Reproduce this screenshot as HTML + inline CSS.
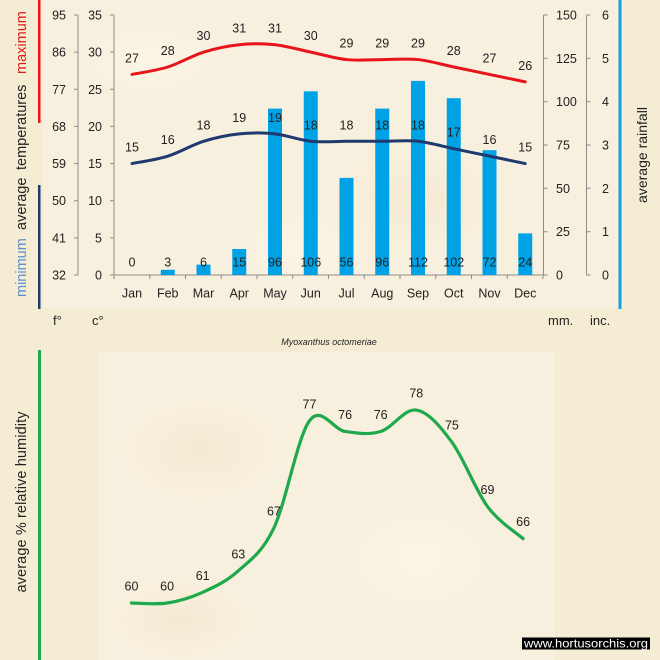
<!DOCTYPE html>
<html><head><meta charset="utf-8"><style>
html,body{margin:0;padding:0;background:#f5edd3;}
svg{display:block;}
text{font-family:"Liberation Sans",Arial,sans-serif;fill:#222;}
</style></head><body>
<svg width="660" height="660" viewBox="0 0 660 660" xmlns="http://www.w3.org/2000/svg">
<defs>
<radialGradient id="b1" cx="0.5" cy="0.5" r="0.5"><stop offset="0" stop-color="#fcf6e8" stop-opacity="0.8"/><stop offset="1" stop-color="#fcf6e8" stop-opacity="0"/></radialGradient>
<radialGradient id="b2" cx="0.5" cy="0.5" r="0.5"><stop offset="0" stop-color="#f3e8cf" stop-opacity="0.7"/><stop offset="1" stop-color="#f3e8cf" stop-opacity="0"/></radialGradient>
</defs>
<rect x="0" y="0" width="660" height="660" fill="#f5edd3"/>
<!-- textured panels -->
<rect x="43" y="0" width="575" height="308" fill="#f8f0de"/>
<rect x="98" y="352" width="457" height="308" fill="#f8f0de"/>
<ellipse cx="150" cy="60" rx="80" ry="40" fill="url(#b1)"/>
<ellipse cx="420" cy="200" rx="90" ry="50" fill="url(#b2)"/>
<ellipse cx="300" cy="250" rx="70" ry="40" fill="url(#b1)"/>
<ellipse cx="200" cy="450" rx="80" ry="50" fill="url(#b2)"/>
<ellipse cx="420" cy="560" rx="90" ry="60" fill="url(#b1)"/>
<ellipse cx="180" cy="620" rx="70" ry="40" fill="url(#b2)"/>

<!-- side colored bars -->
<rect x="38" y="0" width="2.5" height="123" fill="#e8191c"/>
<rect x="38" y="185" width="2.5" height="124" fill="#1f3a6e"/>
<rect x="618.5" y="0" width="3" height="309" fill="#14a0dc"/>
<rect x="38" y="350" width="3" height="310" fill="#1fa84c"/>

<!-- rotated titles -->
<g font-size="14.5">
<text transform="translate(26,74) rotate(-90)" style="fill:#e31a1c">maximum</text>
<text transform="translate(26,170) rotate(-90)">temperatures</text>
<text transform="translate(26,230) rotate(-90)">average</text>
<text transform="translate(26,297) rotate(-90)" style="fill:#5c8fd2">minimum</text>
</g>
<text transform="translate(647,155) rotate(-90)" font-size="14" text-anchor="middle" textLength="96" lengthAdjust="spacing">average rainfall</text>
<text transform="translate(26,502) rotate(-90)" font-size="14.5" text-anchor="middle" textLength="181" lengthAdjust="spacing">average %  relative humidity</text>

<!-- axes -->
<g stroke="#8c8c8c" stroke-width="1" fill="none">
<line x1="78" y1="15" x2="78" y2="275"/>
<line x1="114" y1="15" x2="114" y2="275"/>
<line x1="543.5" y1="15" x2="543.5" y2="275"/>
<line x1="586.5" y1="15" x2="586.5" y2="275"/>
<line x1="114" y1="275" x2="543.5" y2="275"/>
<path d="M74,15H78M74,52.1H78M74,89.3H78M74,126.4H78M74,163.6H78M74,200.7H78M74,237.9H78M74,275H78"/>
<path d="M110,15H114M110,52.1H114M110,89.3H114M110,126.4H114M110,163.6H114M110,200.7H114M110,237.9H114M110,275H114"/>
<path d="M543.5,15H547.5M543.5,58.3H547.5M543.5,101.7H547.5M543.5,145H547.5M543.5,188.3H547.5M543.5,231.7H547.5M543.5,275H547.5"/>
<path d="M586.5,15H590.5M586.5,58.3H590.5M586.5,101.7H590.5M586.5,145H590.5M586.5,188.3H590.5M586.5,231.7H590.5M586.5,275H590.5"/>
<path d="M114,275V279M149.75,275V279M185.5,275V279M221.25,275V279M257,275V279M292.75,275V279M328.5,275V279M364.25,275V279M400,275V279M435.75,275V279M471.5,275V279M507.25,275V279M543,275V279"/>
</g>

<!-- tick labels -->
<g font-size="12.5" text-anchor="end">
<text x="66" y="19.5">95</text><text x="66" y="56.6">86</text><text x="66" y="93.8">77</text><text x="66" y="130.9">68</text><text x="66" y="168.1">59</text><text x="66" y="205.2">50</text><text x="66" y="242.4">41</text><text x="66" y="279.5">32</text>
<text x="102" y="19.5">35</text><text x="102" y="56.6">30</text><text x="102" y="93.8">25</text><text x="102" y="130.9">20</text><text x="102" y="168.1">15</text><text x="102" y="205.2">10</text><text x="102" y="242.4">5</text><text x="102" y="279.5">0</text>
</g>
<g font-size="12.5" text-anchor="start">
<text x="556" y="19.5">150</text><text x="556" y="62.8">125</text><text x="556" y="106.2">100</text><text x="556" y="149.5">75</text><text x="556" y="192.8">50</text><text x="556" y="236.2">25</text><text x="556" y="279.5">0</text>
<text x="602" y="19.5">6</text><text x="602" y="62.8">5</text><text x="602" y="106.2">4</text><text x="602" y="149.5">3</text><text x="602" y="192.8">2</text><text x="602" y="236.2">1</text><text x="602" y="279.5">0</text>
</g>

<!-- bars -->
<g fill="#00a2e6">
<rect x="160.75" y="269.8" width="14" height="5.2"/>
<rect x="196.5" y="264.6" width="14" height="10.4"/>
<rect x="232.25" y="249" width="14" height="26"/>
<rect x="268" y="108.6" width="14" height="166.4"/>
<rect x="303.75" y="91.3" width="14" height="183.7"/>
<rect x="339.5" y="177.9" width="14" height="97.1"/>
<rect x="375.25" y="108.6" width="14" height="166.4"/>
<rect x="411" y="80.9" width="14" height="194.1"/>
<rect x="446.75" y="98.2" width="14" height="176.8"/>
<rect x="482.5" y="150.2" width="14" height="124.8"/>
<rect x="518.25" y="233.4" width="14" height="41.6"/>
</g>

<!-- month labels -->
<g font-size="12.5" text-anchor="middle">
<text x="132" y="297.5">Jan</text><text x="167.75" y="297.5">Feb</text><text x="203.5" y="297.5">Mar</text><text x="239.25" y="297.5">Apr</text><text x="275" y="297.5">May</text><text x="310.75" y="297.5">Jun</text><text x="346.5" y="297.5">Jul</text><text x="382.25" y="297.5">Aug</text><text x="418" y="297.5">Sep</text><text x="453.75" y="297.5">Oct</text><text x="489.5" y="297.5">Nov</text><text x="525.25" y="297.5">Dec</text>
</g>

<!-- lines -->
<path fill="none" stroke="#e8141b" stroke-width="3" stroke-linecap="round" d="M132,74.43 C137.96,73.19 155.83,70.72 167.75,67.0 C179.67,63.29 191.58,55.86 203.5,52.14 C215.42,48.43 227.33,45.95 239.25,44.71 C251.17,43.47 263.08,43.47 275,44.71 C286.92,45.95 298.83,49.66 310.75,52.14 C322.67,54.62 334.58,58.33 346.5,59.57 C358.42,60.81 370.33,59.57 382.25,59.57 C394.17,59.57 406.08,58.33 418,59.57 C429.92,60.81 441.83,64.52 453.75,67.0 C465.67,69.48 477.58,71.95 489.5,74.43 C501.42,76.91 519.29,80.62 525.25,81.86"/>
<path fill="none" stroke="#1f3a6e" stroke-width="3" stroke-linecap="round" d="M132,163.57 C137.96,162.33 155.83,159.85 167.75,156.14 C179.67,152.43 191.58,145.0 203.5,141.29 C215.42,137.58 227.33,135.1 239.25,133.86 C251.17,132.62 263.08,132.62 275,133.86 C286.92,135.1 298.83,140.05 310.75,141.29 C322.67,142.53 334.58,141.29 346.5,141.29 C358.42,141.29 370.33,141.29 382.25,141.29 C394.17,141.29 406.08,140.05 418,141.29 C429.92,142.53 441.83,146.24 453.75,148.71 C465.67,151.19 477.58,153.66 489.5,156.14 C501.42,158.62 519.29,162.33 525.25,163.57"/>

<!-- data labels -->
<g font-size="12.5" text-anchor="middle">
<text x="132" y="62.4">27</text><text x="167.75" y="55">28</text><text x="203.5" y="40.1">30</text><text x="239.25" y="32.7">31</text><text x="275" y="32.7">31</text><text x="310.75" y="40.1">30</text><text x="346.5" y="47.6">29</text><text x="382.25" y="47.6">29</text><text x="418" y="47.6">29</text><text x="453.75" y="55">28</text><text x="489.5" y="62.4">27</text><text x="525.25" y="69.9">26</text>
<text x="132" y="151.6">15</text><text x="167.75" y="144.1">16</text><text x="203.5" y="129.3">18</text><text x="239.25" y="121.9">19</text><text x="275" y="121.9">19</text><text x="310.75" y="129.3">18</text><text x="346.5" y="129.3">18</text><text x="382.25" y="129.3">18</text><text x="418" y="129.3">18</text><text x="453.75" y="136.7">17</text><text x="489.5" y="144.1">16</text><text x="525.25" y="151.6">15</text>
<text x="132" y="266.5">0</text><text x="167.75" y="266.5">3</text><text x="203.5" y="266.5">6</text><text x="239.25" y="266.5">15</text><text x="275" y="266.5">96</text><text x="310.75" y="266.5">106</text><text x="346.5" y="266.5">56</text><text x="382.25" y="266.5">96</text><text x="418" y="266.5">112</text><text x="453.75" y="266.5">102</text><text x="489.5" y="266.5">72</text><text x="525.25" y="266.5">24</text>
</g>

<!-- unit labels -->
<g font-size="13">
<text x="53" y="325">f°</text>
<text x="92" y="325">c°</text>
<text x="548" y="325">mm.</text>
<text x="590" y="325">inc.</text>
</g>
<text x="329" y="345" font-size="9" font-style="italic" text-anchor="middle">Myoxanthus octomeriae</text>

<!-- humidity -->
<path fill="none" stroke="#1fa84c" stroke-width="3.2" stroke-linecap="round" d="M131.5,603 C137.43,603 155.23,604.79 167.1,603 C178.97,601.21 190.83,597.64 202.7,592.28 C214.57,586.92 226.43,581.56 238.3,570.84 C250.17,560.12 262.03,552.97 273.9,527.96 C285.77,502.95 297.63,436.84 309.5,420.76 C321.37,404.68 333.23,429.69 345.1,431.48 C356.97,433.27 368.83,435.05 380.7,431.48 C392.57,427.91 404.43,408.25 416.3,410.04 C428.17,411.83 440.03,426.12 451.9,442.2 C463.77,458.28 475.63,490.44 487.5,506.52 C499.37,522.6 517.17,533.32 523.1,538.68"/>
<g font-size="12.5" text-anchor="middle">
<text x="131.5" y="590.5">60</text><text x="167.1" y="590.5">60</text><text x="202.7" y="579.8">61</text><text x="238.3" y="558.3">63</text><text x="273.9" y="515.5">67</text><text x="309.5" y="408.3">77</text><text x="345.1" y="419">76</text><text x="380.7" y="419">76</text><text x="416.3" y="397.5">78</text><text x="451.9" y="429.7">75</text><text x="487.5" y="494">69</text><text x="523.1" y="526.2">66</text>
</g>

<!-- watermark -->
<rect x="522" y="637.5" width="128" height="12" fill="#000"/>
<text x="524" y="647.5" font-size="12" style="fill:#fff" textLength="124" lengthAdjust="spacingAndGlyphs">www.hortusorchis.org</text>
</svg>
</body></html>
